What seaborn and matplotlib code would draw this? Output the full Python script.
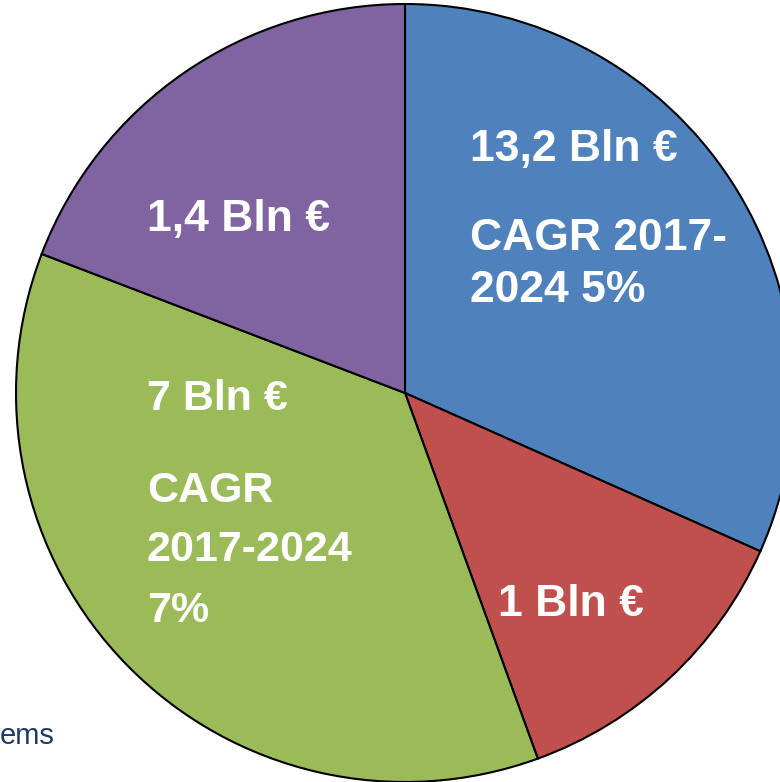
import matplotlib
matplotlib.use("Agg")
import matplotlib.pyplot as plt
import seaborn as sns

# Data
segments = ["Blue", "Red", "Green", "Purple"]
shares = [31.7, 12.8, 36.4, 19.2]
seg_colors = ["#4F81BD", "#C0504D", "#9BBB59", "#8064A2"]
blue_labels = ["13,2 Bln €", "CAGR 2017-", "2024 5%"]
red_labels = ["1 Bln €"]
green_labels = ["7 Bln €", "CAGR", "2017-2024", "7%"]
purple_labels = ["1,4 Bln €"]
footer_text = "ems"

sns.set_style("white")
plt.rcParams['font.family'] = ['Liberation Sans', 'DejaVu Sans']

W, H = 780, 782
fig = plt.figure(figsize=(W / 100, H / 100), dpi=100)
ax = fig.add_axes([0, 0, 1, 1])

palette = sns.color_palette(seg_colors)
R = 389.0
cx, cy = 405.0, 393.0
ax.pie(shares, colors=palette, startangle=90, counterclock=False, radius=1.0,
       wedgeprops=dict(edgecolor="black", linewidth=1.5))
ax.set_aspect("auto")
ax.set_xlim(-cx / R, (W - cx) / R)
ax.set_ylim(-(H - cy) / R, cy / R)
ax.axis("off")


def put(lines, x, ys, size=32):
    for s, y in zip(lines, ys):
        fig.text(x / W, 1 - y / H, s, ha="left", va="center", color="white",
                 fontsize=size, fontweight="bold")


put(blue_labels, 470, [149, 239, 291])
put(purple_labels, 147, [219])
put(green_labels, 147, [399, 491, 550, 611], size=31)
put(red_labels, 498, [604])

fig.text(0 / W, 1 - 744 / H, footer_text, ha="left", va="baseline",
         color="#1F3A68", fontsize=21)

fig.savefig("out.png", dpi=100)
